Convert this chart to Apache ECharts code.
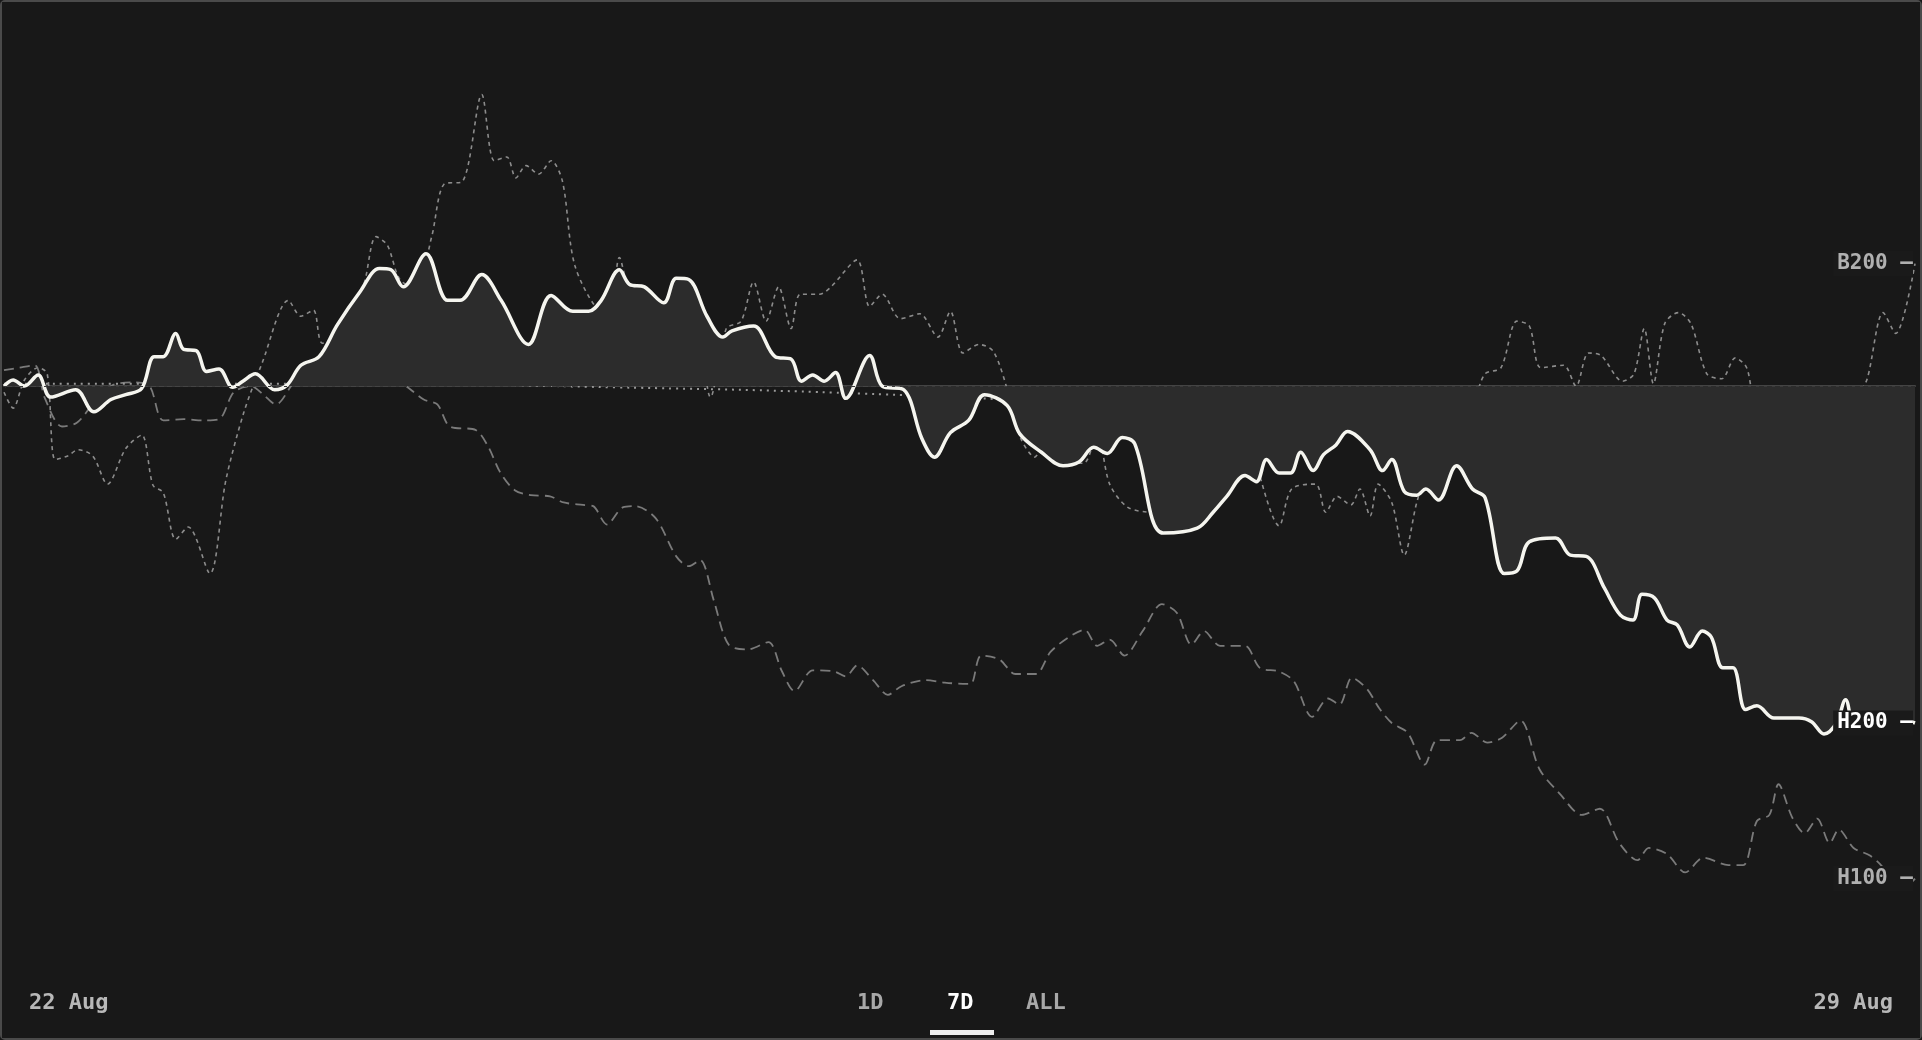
<!DOCTYPE html>
<html><head><meta charset="utf-8">
<script src="https://cdn.jsdelivr.net/npm/echarts@6/dist/echarts.min.js"></script>
<style>
html,body{margin:0;padding:0;background:#181818;}
#c{position:absolute;left:0;top:0;width:1922px;height:1040px;box-sizing:border-box;border:2px solid #4a4a4a;border-radius:5px;}
</style></head><body><div id="c"></div>
<script>
// hours since 22 Aug 00:00 and % change vs start
const h200T=[0,0.8,1.8,3.0,4.1,6.3,7.9,9.4,10.7,12.1,13.2,14.0,15.1,15.8,16.9,17.8,18.9,20.1,21.0,22.1,23.8,24.9,26.1,27.7,29.3,31.3,33.0,34.0,35.1,37.1,39.0,40.1,42.0,43.7,46.1,48.1,50.0,51.4,52.5,54.1,55.0,56.3,58.0,59.1,60.2,61.8,63.2,64.0,65.9,67.8,69.2,70.1,71.1,72.1,73.1,74.0,76.1,77.2,79.1,80.7,81.8,83.2,84.8,86.2,88.2,89.3,91.2,93.1,94.5,95.8,97.0,98.3,99.4,101.9,104.9,106.3,107.5,109.1,110.1,111.0,112.1,113.1,114.0,115.1,116.0,117.1,118.1,120.1,121.2,122.0,123.1,124.2,125.0,126.1,127.7,129.1,130.2,131.9,133.0,134.1,136.4,137.7,139.1,140.7,142.1,143.2,144.0,145.1,146.2,147.1,148.2,149.3,150.1,151.1,152.0,153.1,154.1,155.6,157.8,158.9,160.0,161.1,161.9,162.8,164.6,167.1,168.0];
const h200V=[0,0.25,0,0.45,-0.45,-0.15,-1.05,-0.55,-0.35,-0.1,1.2,1.2,2.15,1.5,1.45,0.6,0.7,-0.05,0.2,0.5,-0.15,0.05,0.85,1.2,2.5,3.85,4.8,4.75,4.05,5.4,3.5,3.5,4.55,3.5,1.7,3.7,3.05,3.05,3.5,4.75,4.15,4.05,3.4,4.4,4.35,2.85,2.0,2.25,2.45,1.2,1.1,0.2,0.45,0.2,0.55,-0.5,1.25,0,-0.15,-2.15,-2.9,-1.9,-1.4,-0.35,-0.8,-1.95,-2.7,-3.25,-3.1,-2.5,-2.75,-2.1,-2.35,-6.0,-5.8,-5.15,-4.5,-3.65,-3.9,-3.0,-3.55,-3.55,-2.7,-3.45,-2.8,-2.4,-1.85,-2.6,-3.45,-3.0,-4.3,-4.45,-4.2,-4.65,-3.25,-4.2,-4.55,-7.65,-7.55,-6.35,-6.2,-6.9,-6.95,-8.25,-9.35,-9.55,-8.5,-8.65,-9.55,-9.75,-10.65,-10.0,-10.25,-11.5,-11.5,-13.2,-13.05,-13.55,-13.55,-13.7,-14.2,-13.75,-12.8,-13.95,-13.75,-13.65,-13.75];
const b200T=[0,0.8,1.8,3.0,3.8,4.5,5.6,6.5,7.8,9.1,10.7,12.1,13.1,14.0,15.1,16.2,18.1,19.5,21.1,22.7,25.0,26.1,27.2,28.0,30.4,31.7,32.7,33.7,34.8,36.2,37.6,38.7,40.3,42.0,43.1,44.2,45.0,45.9,47.0,48.1,49.1,50.2,52.5,53.3,54.1,55.2,56.5,57.9,59.1,60.1,61.2,62.1,63.5,64.8,65.9,67.0,68.1,69.2,70.0,71.7,72.7,75.0,76.1,77.2,78.8,80.5,82.1,83.2,84.3,85.7,87.0,88.4,89.4,90.6,91.9,93.1,94.9,96.1,97.2,98.8,100.8,101.9,102.9,104.1,105.2,106.0,107.1,108.2,109.3,110.4,112.1,113.2,115.3,116.2,117.2,118.4,119.2,120.1,120.8,122.0,123.1,124.2,125.2,126.4,127.5,129.1,130.2,131.6,133.0,134.1,135.1,137.1,138.2,139.3,140.4,142.3,143.3,144.2,145.0,146.0,147.2,148.3,149.7,151.0,152.2,153.2,154.1,155.3,156.1,157.3,158.0,159.1,160.3,161.4,162.8,163.8,165.2,166.3,168.0];
const b200V=[-0.25,-0.9,0.25,0.75,0.5,-3.0,-2.85,-2.6,-2.85,-4.0,-2.55,-2.0,-4.05,-4.35,-6.25,-5.75,-7.65,-3.85,-1.05,0.95,3.5,2.85,3.1,1.75,2.5,4.25,6.1,5.75,4.35,4.0,6.1,8.25,8.35,11.9,9.2,9.35,8.5,9.0,8.65,9.2,8.35,4.9,3.0,2.95,5.25,3.85,3.95,0.95,1.25,2.4,1.75,-0.45,2.35,2.65,4.25,2.65,4.05,2.35,3.75,3.75,4.05,5.15,3.25,3.75,2.75,2.95,2.0,3.05,1.35,1.7,1.4,-0.45,-2.15,-2.9,-1.65,-3.05,-3.15,-1.95,-4.0,-4.95,-5.15,-2.25,-4.65,-3.55,-3.75,-2.15,-2.0,-0.65,-1.0,-3.65,-5.7,-4.2,-4.0,-5.15,-4.5,-4.85,-4.2,-5.3,-4.0,-4.75,-6.9,-4.75,-3.45,-3.05,-1.0,-0.65,0.5,0.75,2.65,2.45,0.75,0.85,0,1.35,1.25,0.2,0.5,2.35,0.1,2.55,3.0,2.55,0.5,0.3,1.15,0.75,-0.9,-0.55,-2.15,-4.55,-5.6,-5.15,-4.1,-3.8,-0.65,0.3,3.0,2.15,5.0];
const h100T=[0,1.3,2.7,3.6,5.1,6.4,7.8,9.6,11.5,12.8,14.0,15.8,17.5,18.9,20.2,21.7,22.8,23.9,25.5,27.2,28.8,30.1,31.5,32.7,33.9,35.2,36.9,38.1,39.2,41.5,42.6,43.6,44.9,46.3,48.0,49.2,50.9,51.8,53.0,54.4,55.5,57.3,59.1,60.2,61.2,62.4,63.7,65.4,67.2,68.4,69.5,71.1,73.0,74.0,75.0,76.4,77.7,78.9,81.0,82.7,84.3,85.0,85.9,87.5,88.9,90.7,92.0,93.6,95.0,96.1,97.2,98.5,100.1,101.8,103.1,104.4,105.5,106.9,109.1,110.4,112.1,113.4,115.0,116.4,117.4,118.5,119.8,120.9,122.0,123.4,124.9,126.0,128.0,129.0,130.4,131.7,133.3,135.0,136.8,138.7,140.3,142.0,143.6,144.6,146.2,147.8,149.4,151.6,152.9,154.1,155.2,156.0,157.2,158.3,159.4,160.5,161.3,162.6,164.0,165.1,166.2,167.3,168.0];
const h100V=[0.65,0.75,0.85,-0.5,-1.65,-1.5,-0.75,0.05,0.15,0,-1.4,-1.35,-1.4,-1.35,-0.25,0,-0.35,-0.75,0.15,0.75,1.45,1.35,0.85,0.5,0.4,0.05,-0.55,-0.75,-1.65,-1.8,-2.5,-3.5,-4.25,-4.45,-4.5,-4.75,-4.85,-4.9,-5.65,-4.95,-4.9,-5.4,-6.95,-7.35,-7.1,-8.75,-10.55,-10.75,-10.45,-11.65,-12.45,-11.6,-11.65,-11.85,-11.4,-12.0,-12.6,-12.25,-12.0,-12.1,-12.15,-12.15,-11.0,-11.15,-11.75,-11.75,-10.85,-10.25,-9.95,-10.6,-10.35,-11.0,-10.0,-8.9,-9.25,-10.55,-10.0,-10.6,-10.6,-11.5,-11.65,-12.05,-13.5,-12.75,-13.0,-11.9,-12.35,-13.15,-13.75,-14.15,-15.45,-14.45,-14.45,-14.15,-14.55,-14.35,-13.65,-15.65,-16.65,-17.5,-17.25,-18.65,-19.35,-18.85,-19.1,-19.85,-19.25,-19.55,-19.55,-17.75,-17.5,-16.25,-17.6,-18.25,-17.65,-18.65,-18.1,-18.85,-19.15,-19.6,-20.35,-20.35,-20.1];
const tpiT=[0,32,53.6,75.1,96.7,118.2,139.8,168];
const tpiV=[0.1,0.1,-0.05,-0.3,-0.75,-1.25,-1.7,-2.0];
const xTickLabels=['22 Aug','29 Aug'];
const rangeButtons=['1D','7D','ALL'];

const zip=(t,v)=>t.map((x,i)=>[x,v[i]]);
const FONT='"DejaVu Sans Mono", monospace';
function endLab(name,color,bold){
  return {show:true,formatter:name+' \u2014',color:color,fontFamily:FONT,fontSize:21,fontWeight:bold?'bold':'normal',
    align:'right',offset:[-2,0],backgroundColor:'#1a1a1a',padding:[2,0,2,4],distance:0};
}
const chart=echarts.init(document.getElementById('c'));
chart.setOption({
  backgroundColor:'#181818',animation:false,
  grid:{left:2,right:5,top:8,bottom:70},
  xAxis:{type:'value',min:0,max:168,axisLine:{show:true,lineStyle:{color:'#444',width:2}},axisTick:{show:false},axisLabel:{show:false},splitLine:{show:false}},
  yAxis:{type:'value',min:-23.75,max:15.35,show:false},
  series:[
    {name:'B200',type:'line',data:zip(b200T,b200V),showSymbol:false,smooth:0.3,
     lineStyle:{color:'#8c8c8c',width:1.6,type:[4,4]},endLabel:endLab('B200','#b0b0b0',true),z:2},
    {name:'H100',type:'line',data:zip(h100T,h100V),showSymbol:false,smooth:0.3,
     lineStyle:{color:'#7a7a7a',width:1.8,type:[10,6]},endLabel:endLab('H100','#b0b0b0',true),z:2},
    {name:'TPI',type:'line',data:zip(tpiT,tpiV),showSymbol:false,smooth:true,
     lineStyle:{color:'#9a9a9a',width:2,type:[2,5]},endLabel:endLab('TPI','#b0b0b0',true),z:3},
    {name:'H200',type:'line',data:zip(h200T,h200V),showSymbol:false,smooth:0.35,
     lineStyle:{color:'#f5f5ef',width:3.5},areaStyle:{origin:0,color:'#2c2c2c',opacity:1},
     endLabel:endLab('H200','#ffffff',true),z:4,
     markLine:{silent:true,symbol:'none',label:{show:false},lineStyle:{color:'#3a3a3a',type:[3,5],width:1},data:[{yAxis:0}]}}
  ],
  graphic:[
    {type:'text',left:27,top:990,style:{text:xTickLabels[0],fill:'#b8b8b8',font:'bold 22px '+FONT}},
    {type:'text',right:27,top:990,style:{text:xTickLabels[1],fill:'#b8b8b8',font:'bold 22px '+FONT,textAlign:'right'}},
    {type:'text',left:855,top:990,style:{text:rangeButtons[0],fill:'#a8a8a8',font:'bold 22px '+FONT}},
    {type:'text',left:945,top:990,style:{text:rangeButtons[1],fill:'#ffffff',font:'bold 22px '+FONT}},
    {type:'text',left:1024,top:990,style:{text:rangeButtons[2],fill:'#a8a8a8',font:'bold 22px '+FONT}},
    {type:'rect',left:928,top:1028,shape:{width:64,height:5},style:{fill:'#eeeeee'}}
  ]
});
</script></body></html>
